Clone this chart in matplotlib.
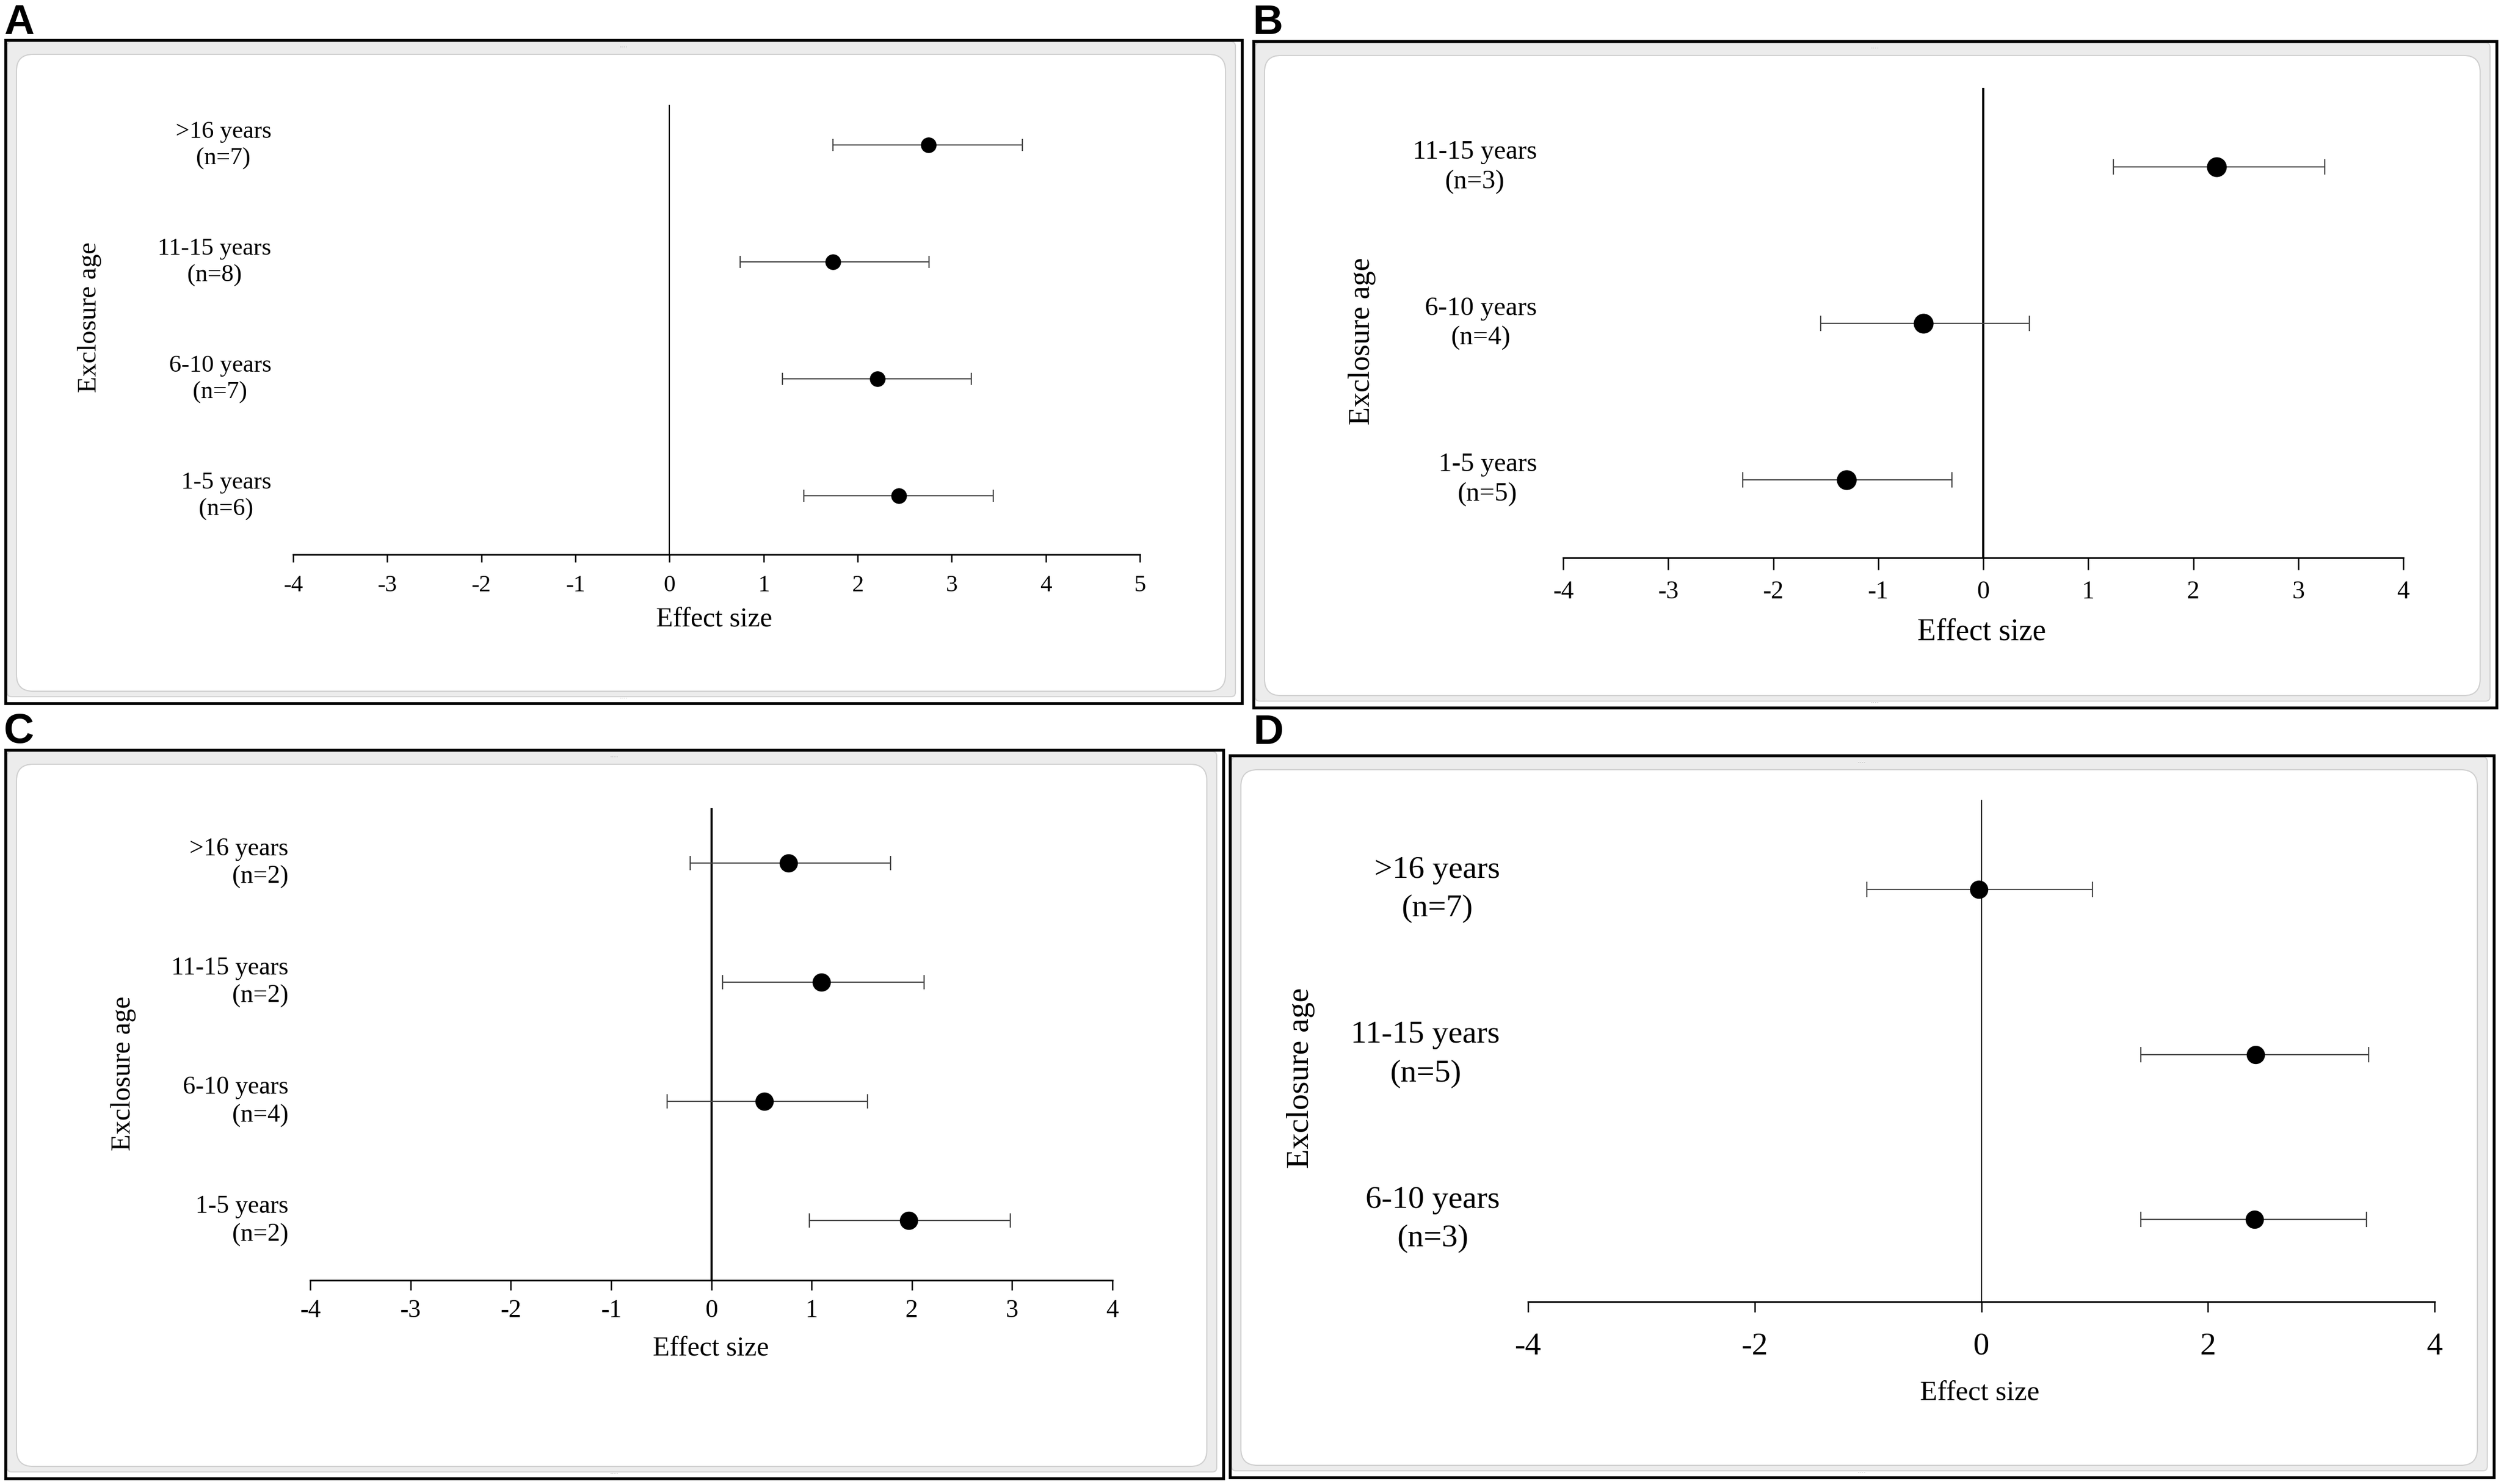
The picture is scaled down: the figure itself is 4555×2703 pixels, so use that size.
import matplotlib
matplotlib.use("Agg")
import matplotlib.pyplot as plt
from matplotlib.patches import Rectangle, FancyBboxPatch
from matplotlib.transforms import blended_transform_factory

plt.rcParams['font.family'] = ['Liberation Serif', 'DejaVu Serif']
plt.rcParams['axes.unicode_minus'] = False

# ---------------- data ----------------
a_groups = ['>16 years\n(n=7)', '11-15 years\n(n=8)', '6-10 years\n(n=7)', '1-5 years\n(n=6)']
a_effect = [2.75, 1.74, 2.21, 2.44]
a_lower = [1.74, 0.75, 1.20, 1.43]
a_upper = [3.75, 2.76, 3.21, 3.44]
a_ticks = [-4, -3, -2, -1, 0, 1, 2, 3, 4, 5]

b_groups = ['11-15 years\n(n=3)', '6-10 years\n(n=4)', '1-5 years\n(n=5)']
b_effect = [2.22, -0.57, -1.30]
b_lower = [1.24, -1.55, -2.29]
b_upper = [3.25, 0.44, -0.30]
b_ticks = [-4, -3, -2, -1, 0, 1, 2, 3, 4]

c_groups = ['>16 years\n(n=2)', '11-15 years\n(n=2)', '6-10 years\n(n=4)', '1-5 years\n(n=2)']
c_effect = [0.77, 1.10, 0.53, 1.97]
c_lower = [-0.21, 0.11, -0.44, 0.98]
c_upper = [1.79, 2.12, 1.56, 2.98]
c_ticks = [-4, -3, -2, -1, 0, 1, 2, 3, 4]

d_groups = ['>16 years\n(n=7)', '11-15 years\n(n=5)', '6-10 years\n(n=3)']
d_effect = [-0.02, 2.42, 2.41]
d_lower = [-1.01, 1.41, 1.41]
d_upper = [0.98, 3.42, 3.40]
d_ticks = [-4, -2, 0, 2, 4]

x_label = 'Effect size'
y_label = 'Exclosure age'
panel_letters = ['A', 'B', 'C', 'D']

# ---------------- layout ----------------
W, H = 4555, 2703
DPI = 100
fig = plt.figure(figsize=(W / DPI, H / DPI), dpi=DPI)
fig.patch.set_facecolor('white')

def fx(x):
    return x / W

def fy(y):
    return 1 - y / H

def inch(x, y):
    return x / DPI, (H - y) / DPI

panels = [
    dict(data=(a_groups, a_effect, a_lower, a_upper, a_ticks), letter=(7, 62),
         box=(10, 73, 2262, 1281), ax=(534, 192, 2076, 1010), ytop=4.34,
         cat_x=494, cat_fs=32, cat_ls=1.25, cat_align='center',
         ylab=(163, 578), ylab_fs=35, xlab=(1301, 1129), xlab_fs=36,
         tick_fs=31, tick_len=10, tick_pad=17, zero_lw=1.5, ms=19.5, cap=8),
    dict(data=(b_groups, b_effect, b_lower, b_upper, b_ticks), letter=(2282, 62),
         box=(2283, 75, 4547, 1289), ax=(2847, 162, 4377, 1016), ytop=3.5,
         cat_x=2799, cat_fs=35, cat_ls=1.3, cat_align='center',
         ylab=(2481, 622), ylab_fs=39, xlab=(3609, 1152), xlab_fs=40,
         tick_fs=33, tick_len=16, tick_pad=14, zero_lw=2.8, ms=25, cap=10),
    dict(data=(c_groups, c_effect, c_lower, c_upper, c_ticks), letter=(7, 1353),
         box=(10, 1366, 2228, 2693), ax=(565, 1474, 2026, 2332), ytop=4.45,
         cat_x=525, cat_fs=33, cat_ls=1.25, cat_align='right',
         ylab=(225, 1955), ylab_fs=36, xlab=(1295, 2457), xlab_fs=36,
         tick_fs=33, tick_len=13, tick_pad=12, zero_lw=2.8, ms=23, cap=9.5),
    dict(data=(d_groups, d_effect, d_lower, d_upper, d_ticks), letter=(2283, 1355),
         box=(2240, 1376, 4542, 2691), ax=(2783, 1458, 4434, 2371), ytop=3.54,
         cat_x=2732, cat_fs=42, cat_ls=1.45, cat_align='center',
         ylab=(2369, 1963), ylab_fs=42, xlab=(3606, 2538), xlab_fs=37,
         tick_fs=42, tick_len=14, tick_pad=26, zero_lw=1.5, ms=23, cap=10),
]

for letter, p in zip(panel_letters, panels):
    x0, y0, x1, y1 = p['box']
    # light grey chart-area band
    gx0, gy0 = inch(x0 + 3, y1 - 12)
    gx1, gy1 = inch(x1 - 12, y0 + 3)
    fig.patches.append(FancyBboxPatch((gx0, gy0), gx1 - gx0, gy1 - gy0,
                                      boxstyle='round,pad=0,rounding_size=0.08',
                                      transform=fig.dpi_scale_trans,
                                      facecolor='#ececec', edgecolor='#d2d2d2',
                                      linewidth=1.5, zorder=0))
    # white rounded plot area
    wx0, wy0 = inch(x0 + 20, y1 - 22)
    wx1, wy1 = inch(x1 - 30, y0 + 26)
    fig.patches.append(FancyBboxPatch((wx0, wy0), wx1 - wx0, wy1 - wy0,
                                      boxstyle='round,pad=0,rounding_size=0.3',
                                      transform=fig.dpi_scale_trans,
                                      facecolor='white', edgecolor='#cfcfcf',
                                      linewidth=1.5, zorder=0.5))
    # black panel border
    bx0, by0 = inch(x0, y1)
    bx1, by1 = inch(x1, y0)
    fig.patches.append(Rectangle((bx0, by0), bx1 - bx0, by1 - by0,
                                 transform=fig.dpi_scale_trans, fill=False,
                                 edgecolor='black', linewidth=3.8, zorder=1))
    # handle dots of the chart frame
    for hx, hy in [((x0 + x1) / 2, y0 + 14), ((x0 + x1) / 2, y1 - 8)]:
        fig.text(fx(hx), fy(hy), '····', color='#9a9a9a', fontsize=9,
                 ha='center', va='center', family='DejaVu Sans')

    # panel letter
    lx, ly = p['letter']
    fig.text(fx(lx), fy(ly), letter, fontsize=55, fontweight='bold',
             family=['Liberation Sans Narrow', 'Liberation Sans', 'DejaVu Sans'],
             ha='left', va='baseline')

    groups, effect, lower, upper, ticks = p['data']
    n = len(groups)
    ypos = list(range(n, 0, -1))

    ax_x0, ax_y0, ax_x1, ax_y1 = p['ax']
    ax = fig.add_axes([fx(ax_x0), fy(ax_y1), (ax_x1 - ax_x0) / W, (ax_y1 - ax_y0) / H])
    ax.set_zorder(3)
    ax.patch.set_visible(False)
    ax.set_xlim(ticks[0], ticks[-1])
    ax.set_ylim(0.5, p['ytop'])
    for s in ('top', 'right'):
        ax.spines[s].set_visible(False)
    ax.spines['left'].set_position(('data', 0))
    ax.spines['left'].set_linewidth(p['zero_lw'])
    ax.spines['bottom'].set_linewidth(2.2)
    ax.set_yticks([])
    ax.set_xticks(ticks)
    ax.set_xticklabels([str(t) for t in ticks])
    ax.tick_params(axis='x', direction='out', length=p['tick_len'], width=1.8,
                   pad=p['tick_pad'], labelsize=p['tick_fs'])

    xerr = [[e - lo for e, lo in zip(effect, lower)],
            [u - e for e, u in zip(effect, upper)]]
    ax.errorbar(effect, ypos, xerr=xerr, fmt='none', ecolor='#454545',
                elinewidth=1.6, capsize=p['cap'], capthick=1.6, zorder=3,
                clip_on=False)
    ax.plot(effect, ypos, 'o', color='black', markersize=p['ms'], zorder=4,
            clip_on=False)

    trans = blended_transform_factory(fig.transFigure, ax.transData)
    for g, yv in zip(groups, ypos):
        ax.text(fx(p['cat_x']), yv, g, transform=trans, ha='right', va='center',
                multialignment=p['cat_align'], fontsize=p['cat_fs'],
                linespacing=p['cat_ls'])

    fig.text(fx(p['ylab'][0]), fy(p['ylab'][1]), y_label, rotation=90,
             ha='center', va='center', fontsize=p['ylab_fs'], zorder=3)
    fig.text(fx(p['xlab'][0]), fy(p['xlab'][1]), x_label,
             ha='center', va='center', fontsize=p['xlab_fs'], zorder=3)

fig.savefig('out.png', dpi=DPI, facecolor='white')
